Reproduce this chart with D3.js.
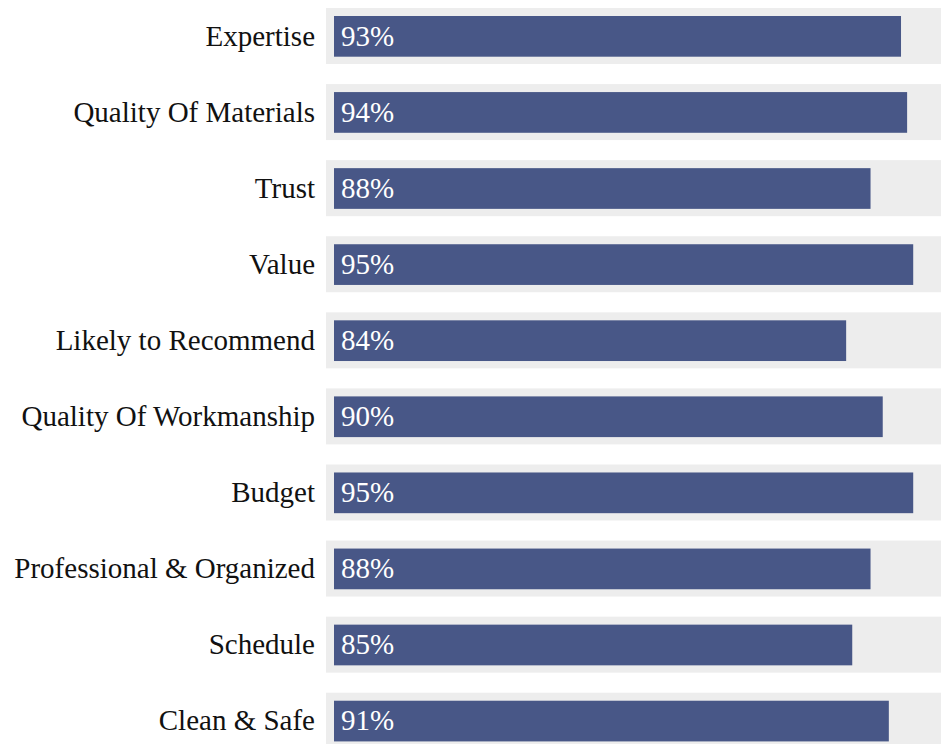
<!DOCTYPE html>
<html>
<head>
<meta charset="utf-8">
<script src="https://cdn.jsdelivr.net/npm/d3@7/dist/d3.min.js"></script>
</head>
<body style="margin:0;padding:0;overflow:hidden;background:#ffffff">
<svg id="chart" width="941" height="744" style="display:block" font-family="Tinos, 'Times New Roman', 'Liberation Serif', serif" font-size="29"></svg>
<script>
// Survey categories, top to bottom
const categories = [
  "Expertise",
  "Quality Of Materials",
  "Trust",
  "Value",
  "Likely to Recommend",
  "Quality Of Workmanship",
  "Budget",
  "Professional & Organized",
  "Schedule",
  "Clean & Safe"
];
// Satisfaction score per category (%)
const scores = [93, 94, 88, 95, 84, 90, 95, 88, 85, 91];
const valueLabels = scores.map(v => v + "%");

const W = 941, H = 744;
const svg = d3.select("#chart");

const trackLeft = 326;
const barLeft = 334;
const rowStep = 76.08;
const rowTop = 8;

const y = d3.scaleBand()
  .domain(categories)
  .range([rowTop, rowTop + categories.length * rowStep - 20.08])
  .paddingInner(20.08 / rowStep)
  .paddingOuter(0);

const x = d3.scaleLinear().domain([0, 100]).range([barLeft, 943.7]);

const data = categories.map((c, i) => ({ c, v: scores[i], label: valueLabels[i] }));

// light grey track behind each bar
svg.selectAll("rect.track")
  .data(data)
  .join("rect")
  .attr("class", "track")
  .attr("x", trackLeft)
  .attr("y", d => y(d.c))
  .attr("width", W - trackLeft)
  .attr("height", y.bandwidth())
  .attr("fill", "#ededed");

// value bar
const barInset = 8;
svg.selectAll("rect.bar")
  .data(data)
  .join("rect")
  .attr("class", "bar")
  .attr("x", x(0))
  .attr("y", d => y(d.c) + barInset)
  .attr("width", d => x(d.v) - x(0))
  .attr("height", y.bandwidth() - 2 * barInset + 0.7)
  .attr("fill", "#485787");

// category labels
svg.selectAll("text.cat")
  .data(data)
  .join("text")
  .attr("class", "cat")
  .attr("x", 315)
  .attr("y", d => y(d.c) + y.bandwidth() / 2 + 9.6)
  .attr("text-anchor", "end")
  .style("font-family", "Tinos, 'Times New Roman', 'Liberation Serif', serif")
  .attr("fill", "#111111")
  .text(d => d.c);

// percentage labels inside bars
svg.selectAll("text.val")
  .data(data)
  .join("text")
  .attr("class", "val")
  .attr("x", x(0) + 7)
  .attr("y", d => y(d.c) + y.bandwidth() / 2 + 9.6)
  .style("font-family", "Tinos, 'Times New Roman', 'Liberation Serif', serif")
  .attr("fill", "#ffffff")
  .text(d => d.label);
</script>
</body>
</html>
